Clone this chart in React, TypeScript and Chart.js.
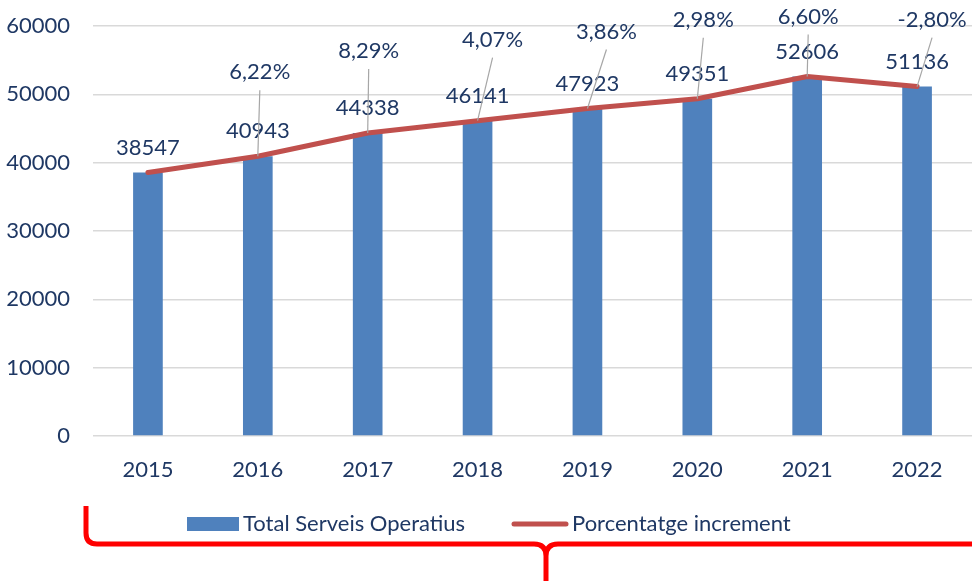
import React, { useEffect, useRef } from "react";
import { Chart, registerables } from "chart.js";

Chart.register(...registerables);

const categories = ["2015", "2016", "2017", "2018", "2019", "2020", "2021", "2022"];
const totalServeis = [38547, 40943, 44338, 46141, 47923, 49351, 52606, 51136];
const pctIncrement: (number | null)[] = [null, 6.22, 8.29, 4.07, 3.86, 2.98, 6.6, -2.8];
const yTickValues = [0, 10000, 20000, 30000, 40000, 50000, 60000];
const seriesNames = ["Total Serveis Operatius", "Porcentatge increment"];

// label placement offsets (pixels) for the percentage callouts, relative to the line point
const pctLabelOffsets: ([number, number] | null)[] = [
  null, [2, -84], [1, -82], [15, -81], [19, -77], [6, -79], [1, -60], [15, -67],
];

const BLUE = "#4F81BD";
const RED = "#C0504D";
const NAVY = "#1F3864";
const FONT = "Lato, 'Open Sans', sans-serif";
const FONT_SIZE = 22;

const overlayPlugin = {
  id: "overlay",
  afterDatasetsDraw(chart: any) {
    const ctx = chart.ctx;
    const barMeta = chart.getDatasetMeta(0);
    const lineMeta = chart.getDatasetMeta(1);
    ctx.save();
    ctx.font = `${FONT_SIZE}px ${FONT}`;
    ctx.fillStyle = NAVY;
    ctx.textAlign = "center";
    ctx.textBaseline = "middle";
    // bar value labels
    barMeta.data.forEach((bar: any, i: number) => {
      ctx.fillText(String(totalServeis[i]), bar.x, bar.y - 25);
    });
    // percentage callouts with leader lines
    lineMeta.data.forEach((pt: any, i: number) => {
      const p = pctIncrement[i];
      const off = pctLabelOffsets[i];
      if (p === null || !off) return;
      const lx = pt.x + off[0];
      const ly = pt.y + off[1];
      ctx.strokeStyle = "#A6A6A6";
      ctx.lineWidth = 1.2;
      ctx.beginPath();
      ctx.moveTo(pt.x, pt.y);
      ctx.lineTo(lx, ly + 18);
      ctx.stroke();
      ctx.fillStyle = NAVY;
      ctx.fillText(p.toFixed(2).replace(".", ",") + "%", lx, ly);
    });
    ctx.restore();
  },
  afterDraw(chart: any) {
    const ctx = chart.ctx;
    ctx.save();
    // legend
    ctx.font = `${FONT_SIZE}px ${FONT}`;
    ctx.textBaseline = "middle";
    ctx.textAlign = "left";
    const ly = 524;
    ctx.fillStyle = BLUE;
    ctx.fillRect(187, 517, 52, 14);
    ctx.fillStyle = NAVY;
    ctx.fillText(chart.data.datasets[0].label, 243, ly);
    ctx.strokeStyle = RED;
    ctx.lineWidth = 5;
    ctx.lineCap = "round";
    ctx.beginPath();
    ctx.moveTo(514, ly);
    ctx.lineTo(566, ly);
    ctx.stroke();
    ctx.fillText(chart.data.datasets[1].label, 572, ly);
    // red brace
    ctx.strokeStyle = "#FF0000";
    ctx.lineWidth = 5;
    ctx.lineCap = "butt";
    ctx.lineJoin = "round";
    ctx.beginPath();
    ctx.moveTo(86, 506);
    ctx.lineTo(86, 533);
    ctx.quadraticCurveTo(86, 544, 97, 544);
    ctx.lineTo(534, 544);
    ctx.quadraticCurveTo(546, 544, 546, 556);
    ctx.lineTo(546, 581);
    ctx.moveTo(546, 556);
    ctx.quadraticCurveTo(546, 544, 558, 544);
    ctx.lineTo(975, 544);
    ctx.stroke();
    ctx.restore();
  },
};

export default function App() {
  const ref = useRef<HTMLCanvasElement>(null);
  useEffect(() => {
    if (!ref.current) return;
    const chart = new Chart(ref.current, {
      type: "bar",
      data: {
        labels: categories,
        datasets: [
          {
            type: "bar",
            label: seriesNames[0],
            data: totalServeis,
            backgroundColor: BLUE,
            categoryPercentage: 1,
            barPercentage: 0.27,
            order: 1,
          } as any,
          {
            type: "line",
            label: seriesNames[1],
            data: totalServeis,
            borderColor: RED,
            backgroundColor: RED,
            borderWidth: 5,
            pointRadius: 0,
            borderCapStyle: "round",
            borderJoinStyle: "round",
            tension: 0,
            order: 0,
          } as any,
        ],
      },
      options: {
        responsive: false,
        animation: false,
        layout: { padding: { top: 26, right: 0, bottom: 0, left: 0 } },
        plugins: { legend: { display: false }, tooltip: { enabled: false } },
        scales: {
          x: {
            grid: { display: false },
            border: { display: false },
            ticks: { color: NAVY, font: { family: FONT, size: FONT_SIZE }, padding: 13 },
            afterFit(scale: any) {
              scale.height = 581 - 436;
              scale.paddingLeft = 0;
              scale.paddingRight = 0;
            },
          },
          y: {
            min: 0,
            max: 60000,
            afterBuildTicks(scale: any) {
              scale.ticks = yTickValues.map((v) => ({ value: v }));
            },
            grid: { color: "#D9D9D9", lineWidth: 1.5, drawTicks: false },
            border: { display: false },
            ticks: {
              color: NAVY,
              font: { family: FONT, size: FONT_SIZE },
              padding: 23,
              callback: (v: any) => String(v),
            },
            afterFit(scale: any) {
              scale.width = 93;
              scale.paddingTop = 0;
              scale.paddingBottom = 0;
            },
          },
        },
      },
      plugins: [overlayPlugin],
    });
    return () => chart.destroy();
  }, []);
  return (
    <div style={{ position: "fixed", left: 0, top: 0, width: 972, height: 581, background: "#fff" }}>
      <canvas ref={ref} width={972} height={581} />
    </div>
  );
}
